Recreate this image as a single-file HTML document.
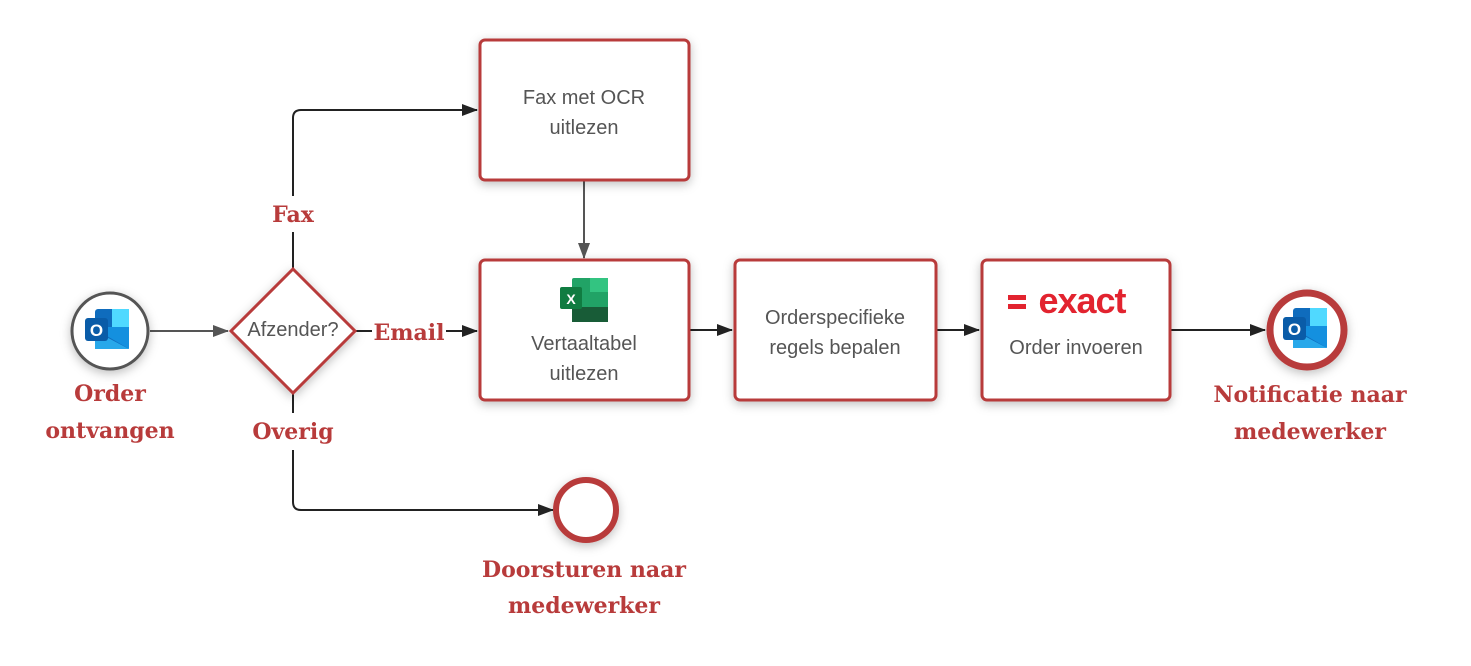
<!DOCTYPE html>
<html><head><meta charset="utf-8"><style>
html,body{margin:0;padding:0;background:#fff;}
svg{display:block}
.lbl{font-family:"DejaVu Serif","Liberation Serif",serif;font-weight:bold;fill:#b83b3b;font-size:22px;text-anchor:middle}
.bx{font-family:"Liberation Sans",sans-serif;fill:#555;font-size:20px;text-anchor:middle}
</style></head><body>
<svg width="1471" height="666" viewBox="0 0 1471 666" xmlns="http://www.w3.org/2000/svg">
<defs>
<filter id="sh" x="-30%" y="-30%" width="160%" height="160%"><feDropShadow dx="0" dy="3" stdDeviation="5" flood-color="#000" flood-opacity="0.25"/></filter>
<marker id="ar" markerWidth="16" markerHeight="14" refX="15" refY="6" orient="auto" markerUnits="userSpaceOnUse"><path d="M0,0 L16,6 L0,12 z" fill="#222"/></marker>
<marker id="ag" markerWidth="16" markerHeight="14" refX="15" refY="6" orient="auto" markerUnits="userSpaceOnUse"><path d="M0,0 L16,6 L0,12 z" fill="#555"/></marker>
<g id="ol">
<rect x="10" y="-4" width="34" height="40" rx="3" fill="#0f6cbd"/>
<rect x="27" y="-4" width="17" height="18" fill="#50d9ff"/>
<path d="M10,16 L44,36 L44,14 L10,14 z" fill="#1490df"/>
<path d="M10,18 L44,36 L10,36 z" fill="#28a8ea"/>
<rect x="0" y="5" width="23" height="23" rx="3" fill="#0a5ca8"/>
<text x="11.5" y="23" font-family="Liberation Sans,sans-serif" font-weight="bold" font-size="17" fill="#fff" text-anchor="middle">O</text>
</g>
</defs>
<path d="M150,331 H228" stroke="#555" stroke-width="2" fill="none" marker-end="url(#ag)"/>
<path d="M293,268 V232" stroke="#222" stroke-width="2"/>
<path d="M293,196 V118 Q293,110 301,110 H477" stroke="#222" stroke-width="2" fill="none" marker-end="url(#ar)"/>
<path d="M356,331 H372" stroke="#222" stroke-width="2"/>
<path d="M446,331 H477" stroke="#222" stroke-width="2" fill="none" marker-end="url(#ar)"/>
<path d="M293,394 V413" stroke="#222" stroke-width="2"/>
<path d="M293,450 V502 Q293,510 301,510 H553" stroke="#222" stroke-width="2" fill="none" marker-end="url(#ar)"/>
<path d="M584,181 V258" stroke="#555" stroke-width="2" fill="none" marker-end="url(#ag)"/>
<path d="M690,330 H732" stroke="#222" stroke-width="2" fill="none" marker-end="url(#ar)"/>
<path d="M937,330 H979" stroke="#222" stroke-width="2" fill="none" marker-end="url(#ar)"/>
<path d="M1171,330 H1265" stroke="#222" stroke-width="2" fill="none" marker-end="url(#ar)"/>
<circle cx="110" cy="331" r="38" fill="#fff" stroke="#555" stroke-width="3" filter="url(#sh)"/>
<use href="#ol" x="85" y="313"/>
<path d="M293,269 L355,331 L293,393 L231,331 z" fill="#fff" stroke="#b83b3b" stroke-width="3" filter="url(#sh)"/>
<text x="293" y="336" class="bx" font-size="15">Afzender?</text>
<rect x="480" y="40" width="209" height="140" rx="5" fill="#fff" stroke="#b83b3b" stroke-width="3" filter="url(#sh)"/>
<text x="584" y="104" class="bx">Fax met OCR</text>
<text x="584" y="134" class="bx">uitlezen</text>
<rect x="480" y="260" width="209" height="140" rx="5" fill="#fff" stroke="#b83b3b" stroke-width="3" filter="url(#sh)"/>
<rect x="572" y="278" width="36" height="44" rx="2" fill="#21a366"/>
<rect x="590" y="278" width="18" height="14" fill="#33c481"/>
<rect x="572" y="307" width="36" height="15" fill="#185c37"/>
<rect x="560" y="287" width="22" height="22" rx="2" fill="#107c41"/>
<text x="571" y="304" font-family="Liberation Sans,sans-serif" font-weight="bold" font-size="14" fill="#fff" text-anchor="middle">X</text>
<text x="584" y="350" class="bx">Vertaaltabel</text>
<text x="584" y="380" class="bx">uitlezen</text>
<rect x="735" y="260" width="201" height="140" rx="5" fill="#fff" stroke="#b83b3b" stroke-width="3" filter="url(#sh)"/>
<text x="835" y="324" class="bx">Orderspecifieke</text>
<text x="835" y="354" class="bx">regels bepalen</text>
<rect x="982" y="260" width="188" height="140" rx="5" fill="#fff" stroke="#b83b3b" stroke-width="3" filter="url(#sh)"/>
<rect x="1008" y="295" width="18" height="5" fill="#e2232f"/>
<rect x="1008" y="304" width="18" height="5" fill="#e2232f"/>
<text x="1082" y="313" font-family="Liberation Sans,sans-serif" font-weight="bold" font-size="36" fill="#e2232f" text-anchor="middle" letter-spacing="-1">exact</text>
<text x="1076" y="354" class="bx">Order invoeren</text>
<circle cx="1307" cy="330" r="37" fill="#fff" stroke="#b83b3b" stroke-width="7" filter="url(#sh)"/>
<use href="#ol" x="1283" y="312"/>
<circle cx="586" cy="510" r="30" fill="#fff" stroke="#b83b3b" stroke-width="6" filter="url(#sh)"/>
<text x="293" y="222" class="lbl">Fax</text>
<text x="409" y="340" class="lbl">Email</text>
<text x="293" y="439" class="lbl">Overig</text>
<text x="110" y="401" class="lbl">Order</text>
<text x="110" y="438" class="lbl">ontvangen</text>
<text x="1310" y="402" class="lbl">Notificatie naar</text>
<text x="1310" y="439" class="lbl">medewerker</text>
<text x="584" y="577" class="lbl">Doorsturen naar</text>
<text x="584" y="613" class="lbl">medewerker</text>
</svg>
</body></html>
